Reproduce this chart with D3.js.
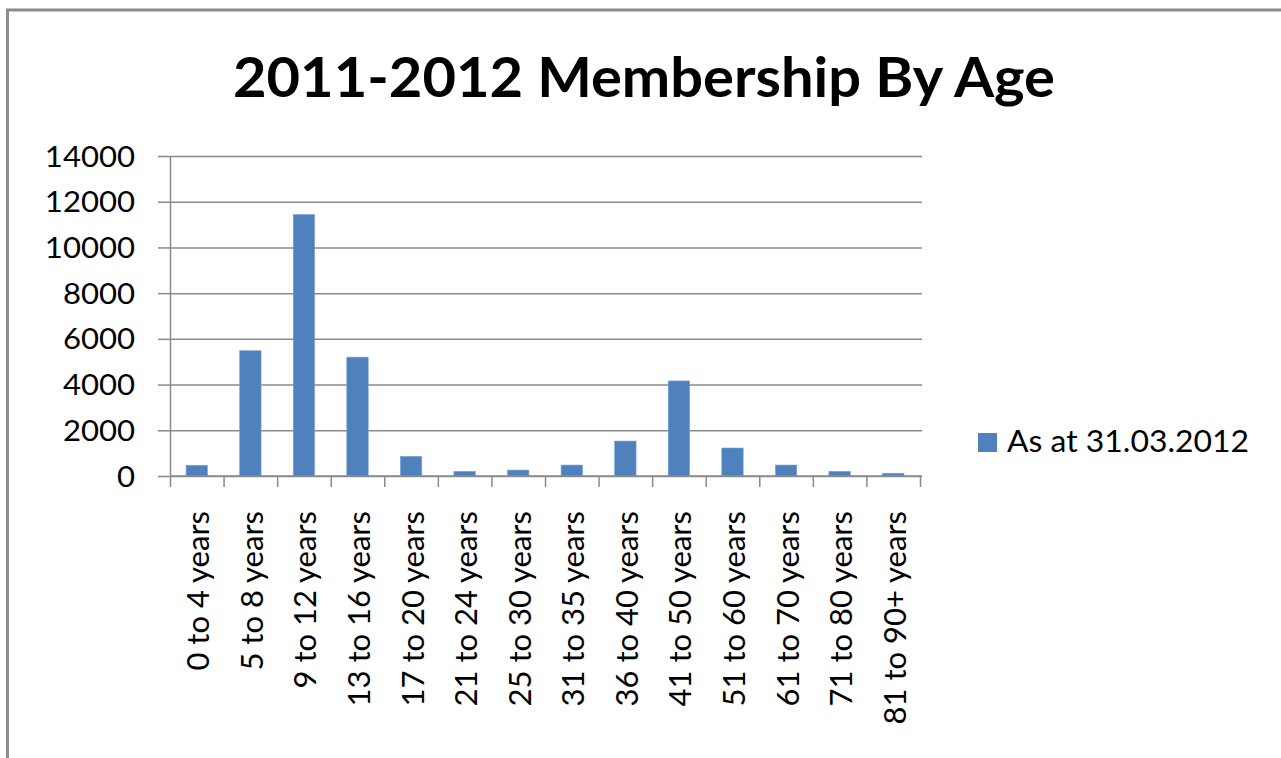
<!DOCTYPE html>
<html>
<head>
<meta charset="utf-8">
<script src="https://cdn.jsdelivr.net/npm/d3@7"></script>
<style>
  html, body { margin: 0; padding: 0; background: #fff; }
  svg { display: block; }
  text { font-family: Lato, "Open Sans", sans-serif; fill: #000; }
</style>
</head>
<body>
<div id="chart"></div>
<script>
const categories = ["0 to 4 years", "5 to 8 years", "9 to 12 years", "13 to 16 years", "17 to 20 years",
  "21 to 24 years", "25 to 30 years", "31 to 35 years", "36 to 40 years", "41 to 50 years",
  "51 to 60 years", "61 to 70 years", "71 to 80 years", "81 to 90+ years"];
const values = [470, 5480, 11440, 5200, 860, 205, 260, 480, 1530, 4160, 1225, 480, 205, 120];
const yTicks = [0, 2000, 4000, 6000, 8000, 10000, 12000, 14000];
const seriesName = "As at 31.03.2012";
const titleText = "2011-2012 Membership By Age";

const W = 1281, H = 758;
const plot = { left: 170, right: 920, top: 156, bottom: 476 };
const sx = 1.11;
const barColor = "#4f81bd";
const gridColor = "#8a8a8a";

const svg = d3.select("#chart").append("svg").attr("width", W).attr("height", H);

// outer chart frame (left & top borders visible)
svg.append("rect").attr("x", 7.5).attr("y", 10).attr("width", W + 20).attr("height", H + 20)
  .attr("fill", "none").attr("stroke", "#8c8c8c").attr("stroke-width", 3);

// title
svg.append("text").attr("x", 233).attr("y", 97)
  .attr("font-size", 55).attr("font-weight", 700)
  .attr("textLength", 822).attr("lengthAdjust", "spacingAndGlyphs")
  .text(titleText);

const x = d3.scaleBand().domain(categories).range([plot.left, plot.right]).padding(0);
const y = d3.scaleLinear().domain([0, 14000]).range([plot.bottom, plot.top]);

// gridlines + y ticks
const yAxis = d3.axisLeft(y).tickValues(yTicks).tickSize(12).tickFormat(d3.format("d"));
const gy = svg.append("g").attr("transform", `translate(${plot.left},0)`).call(yAxis);
gy.select(".domain").attr("stroke", gridColor).attr("stroke-width", 1.5)
  .attr("d", `M0.5,${plot.top}V${plot.bottom}`);
gy.selectAll(".tick line").attr("stroke", gridColor).attr("stroke-width", 1.5)
  .attr("x1", 0).attr("x2", -12);
gy.selectAll(".tick").append("line")
  .attr("x1", 0).attr("x2", plot.right - plot.left + 2)
  .attr("stroke", gridColor).attr("stroke-width", 1.5);
gy.selectAll(".tick text").attr("font-size", 28).attr("fill", "#000")
  .attr("font-family", "Lato, sans-serif")
  .attr("x", null).attr("dy", null).attr("y", 10)
  .attr("transform", `translate(-35,0) scale(${sx},1)`);

// bars
const bw = x.bandwidth() * 0.4;
svg.append("g").selectAll("rect").data(values).join("rect")
  .attr("x", (d, i) => x(categories[i]) + (x.bandwidth() - bw) / 2)
  .attr("y", d => y(d))
  .attr("width", bw)
  .attr("height", d => y(0) - y(d))
  .attr("fill", barColor)
  .attr("stroke", "#7ea3d3").attr("stroke-width", 0.6);

// x axis with ticks at category boundaries
const gx = svg.append("g");
gx.append("line").attr("x1", plot.left).attr("x2", plot.right + 2)
  .attr("y1", plot.bottom).attr("y2", plot.bottom)
  .attr("stroke", gridColor).attr("stroke-width", 1.5);
const boundaries = categories.map(c => x(c)).concat([plot.right]);
gx.selectAll("line.tk").data(boundaries).join("line").attr("class", "tk")
  .attr("x1", d => d + 0.5).attr("x2", d => d + 0.5)
  .attr("y1", plot.bottom).attr("y2", plot.bottom + 11)
  .attr("stroke", gridColor).attr("stroke-width", 1.5);

gx.selectAll("text").data(categories).join("text")
  .attr("transform", d => `translate(${x(d) + x.bandwidth() / 2},511) rotate(-90)`)
  .attr("text-anchor", "end")
  .attr("dy", 12.5)
  .attr("font-size", 31)
  .text(d => d);

// legend
const lg = svg.append("g");
lg.append("rect").attr("x", 978).attr("y", 433).attr("width", 19).attr("height", 19)
  .attr("fill", barColor);
lg.append("text").attr("x", 1007).attr("y", 452)
  .attr("font-size", 30)
  .attr("textLength", 242).attr("lengthAdjust", "spacingAndGlyphs")
  .text(seriesName);
</script>
</body>
</html>
